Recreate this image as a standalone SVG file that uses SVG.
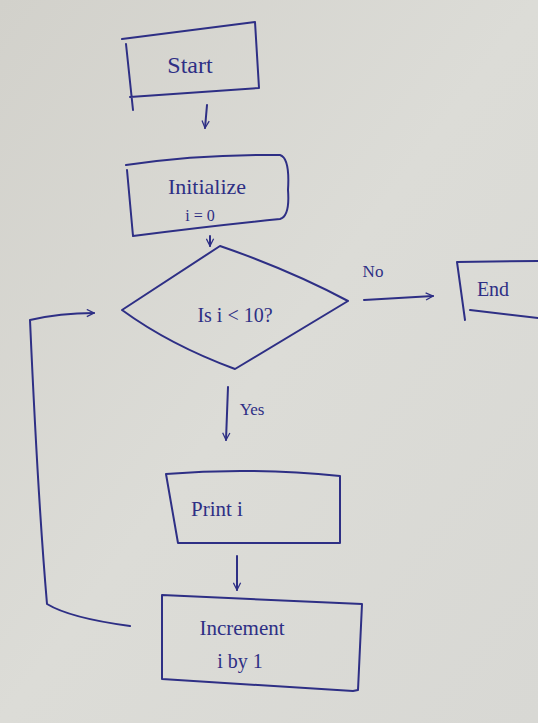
<svg xmlns="http://www.w3.org/2000/svg" width="538" height="723" viewBox="0 0 538 723">
<defs>
<linearGradient id="paper" x1="0" y1="0" x2="1" y2="1">
<stop offset="0" stop-color="#d2d1cb"/>
<stop offset="0.5" stop-color="#dcdcd7"/>
<stop offset="1" stop-color="#d8d8d4"/>
</linearGradient>
<marker id="ah" viewBox="0 0 10 10" refX="9" refY="5" markerWidth="9" markerHeight="9" orient="auto" markerUnits="userSpaceOnUse">
<path d="M1,1 L9,5 L1,9" fill="none" stroke="#2e2f85" stroke-width="1.4"/>
</marker>
<style>
.ink{fill:none;stroke:#2e2f85;stroke-width:2;stroke-linejoin:round;stroke-linecap:round}
.t{font-family:"Liberation Serif","DejaVu Serif",serif;fill:#2e2f85;text-anchor:middle}
</style>
</defs>
<rect width="538" height="723" fill="url(#paper)"/>
<g id="start">
<path class="ink" d="M122,39 L255,22 L259,88 L130,97 M126,44 L133,110"/>
<text class="t" x="190" y="73" font-size="24">Start</text>
</g>
<g id="init">
<path class="ink" d="M126,165 Q200,154 280,155 Q290,158 288,190 Q290,216 280,219 Q210,226 133,236 L127,170"/>
<text class="t" x="207" y="194" font-size="22">Initialize</text>
<text class="t" x="200" y="221" font-size="16">i = 0</text>
</g>
<g id="decision">
<path class="ink" d="M220,246 Q290,270 348,301 Q300,330 235,369 Q170,345 122,310 Z"/>
<text class="t" x="235" y="322" font-size="20">Is  i &lt; 10?</text>
</g>
<g id="end">
<path class="ink" d="M457,262 L538,261 M457,262 L465,320 M470,310 L538,318"/>
<text class="t" x="493" y="296" font-size="20">End</text>
</g>
<g id="print">
<path class="ink" d="M166,474 Q250,467 340,476 L340,543 L178,543 Z"/>
<text class="t" x="217" y="516" font-size="21">Print i</text>
</g>
<g id="increment">
<path class="ink" d="M162,595 L362,604 L358,690 L353,691 L162,679 Z"/>
<text class="t" x="242" y="635" font-size="21">Increment</text>
<text class="t" x="240" y="668" font-size="20">i by 1</text>
</g>
<g id="connectors">
<path class="ink" d="M207,105 L205,128" marker-end="url(#ah)"/>
<path class="ink" d="M210,236 L210,246" marker-end="url(#ah)"/>
<path class="ink" d="M364,300 L433,296" marker-end="url(#ah)"/>
<path class="ink" d="M228,387 L226,440" marker-end="url(#ah)"/>
<path class="ink" d="M237,556 L237,590" marker-end="url(#ah)"/>
<path class="ink" d="M130,626 Q70,618 47,604 Q38,500 30,320 Q60,313 94,313" marker-end="url(#ah)"/>
<text class="t" x="373" y="277" font-size="17">No</text>
<text class="t" x="252" y="415" font-size="17">Yes</text>
</g>
</svg>
